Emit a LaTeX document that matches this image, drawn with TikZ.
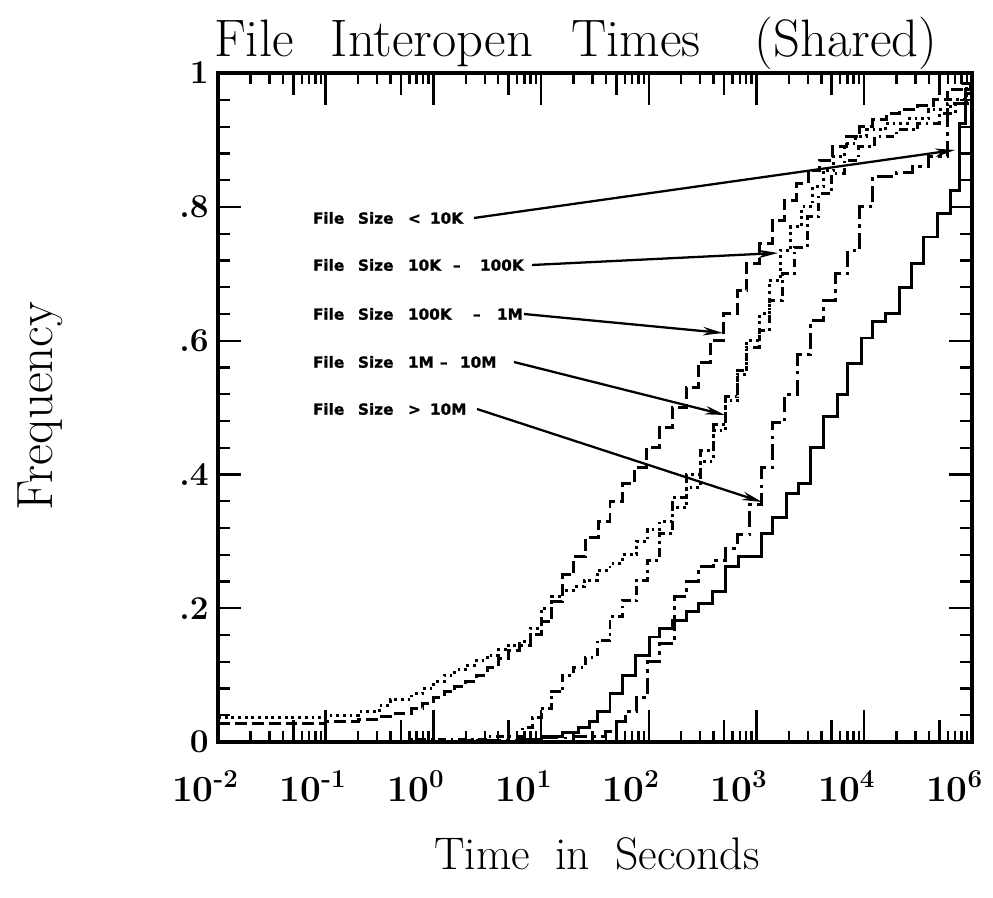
\documentclass[tikz,border=0pt]{standalone}
\usepackage{fontspec}
\newfontfamily\lblfont[BoldFeatures={FakeBold=1.2}]{DejaVu Sans}
\usetikzlibrary{arrows.meta}
\begin{document}
\begin{tikzpicture}[x=0.02cm,y=-0.02cm,
  crv/.style={line width=1.7pt},
  crvA/.style={crv, dash pattern=on 6.8pt off 2.8pt},
  crvB/.style={crv, dash pattern=on 1.6pt off 2.2pt},
  crvC/.style={crv, dash pattern=on 5pt off 2.5pt on 1.5pt off 2.5pt},
  crvD/.style={crv, dash pattern=on 9pt off 3pt on 2pt off 3pt},
  crvE/.style={crv},
  frm/.style={line width=2pt},
  tk/.style={line width=1.4pt},
  lbl/.style={font={\lblfont\bfseries\fontsize{8.7}{10}\selectfont}, anchor=west, inner sep=0pt, outer sep=0.08cm},
  pointer/.style={line width=1.3pt, -{Stealth[length=0.4cm,width=0.17cm]}},
  ttl/.style={font=\fontsize{30}{34}\selectfont, anchor=base, inner sep=0pt},
  axt/.style={font=\fontsize{26}{30}\selectfont, anchor=base, inner sep=0pt},
  ylab/.style={font=\fontsize{29}{32}\selectfont, anchor=base, inner sep=0pt, rotate=90},
  xtl/.style={font=\bfseries\fontsize{21}{24}\selectfont, anchor=base east, inner sep=0pt},
  ytl/.style={font=\bfseries\fontsize{19}{22}\selectfont, anchor=east, inner sep=0pt}]
\useasboundingbox (0,0) rectangle (993,898);

% ---------- data area ----------
\begin{scope}[shift={(433.4,742)}, x={(2.154cm,0cm)}, y={(0cm,13.38cm)}]
% curve E (solid)
\draw[crvE] (-2,0) -| (0.8,0.004) -| (1.0,0.008) -| (1.2,0.014) -| (1.35,0.022) -| (1.45,0.03) -| (1.52,0.045) -| (1.64,0.073) -| (1.76,0.1) -| (1.88,0.13) -| (2.01,0.157) -| (2.1,0.17) -| (2.22,0.182) -| (2.35,0.195) -| (2.46,0.207) -| (2.59,0.225) -| (2.71,0.262) -| (2.83,0.277) -| (3.05,0.312) -| (3.15,0.335) -| (3.28,0.372) -| (3.39,0.387) -| (3.5,0.44) -| (3.62,0.486) -| (3.75,0.519) -| (3.85,0.566) -| (3.98,0.604) -| (4.08,0.628) -| (4.2,0.641) -| (4.33,0.68) -| (4.44,0.716) -| (4.55,0.755) -| (4.68,0.79) -| (4.8,0.825) -| (4.89,0.925) -| (4.94,0.975) -- (5,0.975);
% curve D
\draw[crvD] (-2,0) -| (0.3,0.003) -| (1.0,0.006) -| (1.3,0.008) -| (1.6,0.015) -| (1.7,0.03) -| (1.78,0.045) -| (1.89,0.067) -| (1.99,0.12) -| (2.1,0.148) -| (2.24,0.217) -| (2.35,0.24) -| (2.46,0.262) -| (2.6,0.272) -| (2.71,0.29) -| (2.82,0.31) -| (2.94,0.355) -| (3.05,0.41) -| (3.15,0.477) -| (3.26,0.52) -| (3.38,0.58) -| (3.5,0.63) -| (3.62,0.66) -| (3.73,0.7) -| (3.85,0.735) -| (3.96,0.8) -| (4.08,0.845) -| (4.3,0.852) -| (4.45,0.86) -| (4.6,0.875) -| (4.77,0.955) -- (5,0.955);
% curve C
\draw[crvC] (-2,0) -| (-0.2,0.004) -| (0.5,0.008) -| (0.83,0.022) -| (0.92,0.036) -| (1.0,0.05) -| (1.1,0.075) -| (1.2,0.1) -| (1.3,0.112) -| (1.41,0.127) -| (1.52,0.152) -| (1.64,0.187) -| (1.76,0.212) -| (1.89,0.242) -| (1.99,0.272) -| (2.1,0.312) -| (2.22,0.366) -| (2.35,0.4) -| (2.48,0.436) -| (2.6,0.474) -| (2.71,0.516) -| (2.82,0.556) -| (2.91,0.59) -| (3.03,0.615) -| (3.12,0.66) -| (3.24,0.7) -| (3.35,0.74) -| (3.47,0.785) -| (3.58,0.82) -| (3.7,0.85) -| (3.82,0.87) -| (3.95,0.89) -| (4.1,0.905) -| (4.3,0.915) -| (4.5,0.925) -| (4.7,0.94) -| (4.85,0.955) -| (4.95,0.97) -- (5,0.97);
% curve B (dotted)
\draw[crvB] (-2,0.037) -| (-1.0,0.04) -| (-0.7,0.045) -| (-0.5,0.055) -| (-0.4,0.063) -| (-0.2,0.072) -| (-0.1,0.08) -| (0.0,0.09) -| (0.1,0.1) -| (0.2,0.108) -| (0.3,0.115) -| (0.4,0.122) -| (0.5,0.13) -| (0.6,0.138) -| (0.7,0.145) -| (0.8,0.15) -| (0.9,0.17) -| (1.0,0.2) -| (1.1,0.217) -| (1.2,0.227) -| (1.3,0.232) -| (1.4,0.242) -| (1.52,0.257) -| (1.64,0.267) -| (1.76,0.28) -| (1.89,0.3) -| (1.99,0.317) -| (2.1,0.33) -| (2.22,0.35) -| (2.35,0.38) -| (2.48,0.42) -| (2.6,0.465) -| (2.71,0.51) -| (2.82,0.55) -| (2.91,0.6) -| (3.03,0.64) -| (3.12,0.69) -| (3.22,0.735) -| (3.32,0.77) -| (3.42,0.8) -| (3.52,0.83) -| (3.62,0.855) -| (3.72,0.875) -| (3.82,0.895) -| (3.92,0.905) -| (4.02,0.915) -| (4.2,0.925) -| (4.4,0.932) -| (4.6,0.945) -| (4.8,0.96) -| (4.95,0.98) -- (5,0.98);
% curve A (long dash)
\draw[crvA] (-2,0.028) -| (-1.0,0.031) -| (-0.7,0.034) -| (-0.5,0.038) -| (-0.35,0.043) -| (-0.2,0.05) -| (-0.1,0.058) -| (0.0,0.067) -| (0.1,0.075) -| (0.2,0.083) -| (0.3,0.09) -| (0.4,0.1) -| (0.5,0.112) -| (0.6,0.125) -| (0.7,0.137) -| (0.8,0.145) -| (0.9,0.16) -| (1.0,0.18) -| (1.1,0.21) -| (1.2,0.25) -| (1.3,0.277) -| (1.41,0.306) -| (1.53,0.33) -| (1.64,0.36) -| (1.76,0.387) -| (1.87,0.41) -| (1.98,0.44) -| (2.1,0.47) -| (2.22,0.5) -| (2.35,0.53) -| (2.46,0.568) -| (2.57,0.6) -| (2.69,0.64) -| (2.82,0.675) -| (2.91,0.716) -| (3.03,0.746) -| (3.15,0.78) -| (3.26,0.81) -| (3.37,0.835) -| (3.48,0.855) -| (3.59,0.87) -| (3.71,0.89) -| (3.84,0.905) -| (3.96,0.92) -| (4.08,0.93) -| (4.21,0.94) -| (4.33,0.945) -| (4.5,0.952) -| (4.64,0.96) -| (4.77,0.975) -| (4.9,0.985) -- (5,0.985);

% frame
\draw[frm] (-2,0) rectangle (5,1);
% x ticks
\foreach \d in {-1,...,4} {
  \draw[tk] (\d,0) -- ++(0,0.64cm);
  \draw[tk] (\d,1) -- ++(0,-0.64cm);
}
\foreach \d in {-2,...,4} {
  \foreach \m in {2,...,9} {
    \pgfmathsetmacro\xx{\d+log10(\m)}
    \pgfmathsetmacro\len{\m==5 ? 0.44 : 0.22}
    \draw[tk] (\xx,0) -- ++(0,\len cm);
    \draw[tk] (\xx,1) -- ++(0,-\len cm);
  }
}
% y ticks
\foreach \k in {1,...,24} {
  \pgfmathsetmacro\yy{\k*0.04}
  \pgfmathsetmacro\len{mod(\k,5)==0 ? 0.46 : 0.24}
  \draw[tk] (-2,\yy) -- ++(\len cm,0);
  \draw[tk] (5,\yy) -- ++(-\len cm,0);
}
\end{scope}

% ---------- tick labels ----------
\foreach \d/\s in {-2/-2,-1/-1,0/0,1/1,2/2,3/3,4/4,5/6} {
  \node[xtl] (xl\s) at ({218+(\d+2)*107.7-4},801) {10\rlap{\textsuperscript{\bfseries\s}}};
}
\foreach \v/\t/\n in {0/0/a,0.2/.2/b,0.4/.4/c,0.6/.6/d,0.8/.8/e,1/1/f} {
  \node[ytl] (yl\n) at (209,{742-\v*669}) {\t};
}

% ---------- titles ----------
\node[ttl] (w1) at (254,57) {File};
\node[ttl] (w2) at (432,57) {Interopen};
\node[ttl] (w3) at (636,57) {Times};
\node[ttl] (w4) at (846,57) {(Shared)};
\node[axt] (xt) at (597,869) {Time\hspace{0.55em}in\hspace{0.55em}Seconds};
\node[ylab] (yt) at (52,406) {Frequency};

% ---------- legend labels and pointers ----------
\node[lbl] (lab1) at (309,218) {\makebox[0.9cm][l]{File}\makebox[1.0cm][l]{Size}\makebox[0.44cm][l]{<}\makebox[0.8cm][l]{10K}};
\node[lbl] (lab2) at (309,265) {\makebox[0.9cm][l]{File}\makebox[1.0cm][l]{Size}\makebox[0.9cm][l]{10K}\makebox[0.54cm][l]{–}\makebox[0.96cm][l]{100K}};
\node[lbl] (lab3) at (309,314) {\makebox[0.9cm][l]{File}\makebox[1.0cm][l]{Size}\makebox[1.3cm][l]{100K}\makebox[0.48cm][l]{–}\makebox[0.46cm][l]{1M}};
\node[lbl] (lab4) at (309,362) {\makebox[0.9cm][l]{File}\makebox[1.0cm][l]{Size}\makebox[0.64cm][l]{1M}\makebox[0.4cm][l]{–}\makebox[1.0cm][l]{10M}};
\node[lbl] (lab5) at (309,409) {\makebox[0.9cm][l]{File}\makebox[1.0cm][l]{Size}\makebox[0.44cm][l]{>}\makebox[0.86cm][l]{10M}};

\coordinate (t1) at (955,150);
\coordinate (t2) at (778,253);
\coordinate (t3) at (723,333);
\coordinate (t4) at (725,415);
\coordinate (t5) at (762,502);

\draw[pointer] (lab1.east) -- (t1);
\draw[pointer] (lab2.east) -- (t2);
\draw[pointer] (lab3.east) -- (t3);
\draw[pointer] (lab4.east) -- (t4);
\draw[pointer] (lab5.east) -- (t5);
\end{tikzpicture}
\end{document}
